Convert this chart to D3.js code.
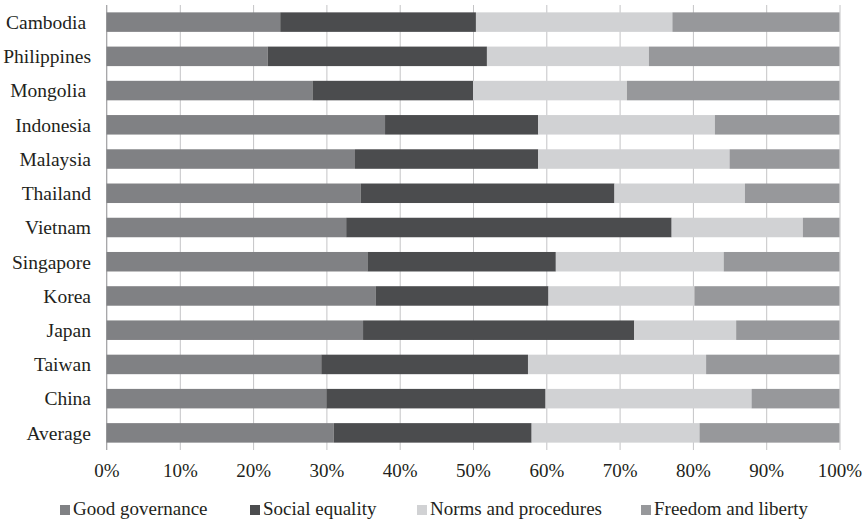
<!DOCTYPE html>
<html>
<head>
<meta charset="utf-8">
<script src="https://cdn.jsdelivr.net/npm/d3@7"></script>
<style>
  html, body { margin: 0; padding: 0; background: #fff; }
  svg { display: block; }
  text { font-family: "Liberation Serif", "Times New Roman", serif; fill: #231f20; }
</style>
</head>
<body>
<svg id="chart" width="864" height="522"></svg>
<script>
const countries = ["Cambodia ", "Philippines", "Mongolia ", "Indonesia", "Malaysia", "Thailand", "Vietnam",
                   "Singapore", "Korea", "Japan", "Taiwan", "China", "Average"];
const seriesNames = ["Good governance", "Social equality", "Norms and procedures", "Freedom and liberty"];
const goodGovernance    = [23.7, 22.0, 28.1, 38.0, 33.9, 34.7, 32.7, 35.6, 36.7, 35.0, 29.3, 30.0, 31.0];
const socialEquality    = [26.7, 29.9, 21.9, 20.9, 25.0, 34.6, 44.4, 25.7, 23.6, 37.0, 28.2, 29.9, 27.0];
const normsProcedures   = [26.8, 22.1, 21.0, 24.1, 26.1, 17.8, 17.9, 22.9, 19.9, 13.9, 24.3, 28.1, 22.9];
const freedomLiberty    = [22.8, 26.0, 29.0, 17.0, 15.0, 12.9,  5.0, 15.8, 19.8, 14.1, 18.2, 12.0, 19.1];
const tickValues = [0, 0.1, 0.2, 0.3, 0.4, 0.5, 0.6, 0.7, 0.8, 0.9, 1.0];
const colors = ["#808184", "#4b4c4e", "#d1d2d4", "#97989b"];

const svg = d3.select("#chart");
const margin = { left: 106.5, right: 864 - 839.5, top: 5, bottom: 522 - 450 };
const W = 864, H = 522;

const x = d3.scaleLinear().domain([0, 1]).range([margin.left, W - margin.right]);
const y = d3.scaleBand().domain(countries).range([margin.top, H - margin.bottom]).paddingInner(0.43).paddingOuter(0.215);

const rows = countries.map((c, i) => {
  const vals = [goodGovernance[i], socialEquality[i], normsProcedures[i], freedomLiberty[i]];
  const total = d3.sum(vals);
  const o = { country: c };
  seriesNames.forEach((s, j) => o[s] = vals[j] / total);
  return o;
});
const stacked = d3.stack().keys(seriesNames)(rows);

// gridlines
svg.append("g")
  .attr("transform", `translate(0,${H - margin.bottom})`)
  .call(d3.axisBottom(x).tickValues(tickValues).tickSize(-(H - margin.bottom - margin.top)).tickFormat(d3.format(".0%")).tickPadding(14))
  .call(g => g.select(".domain").remove())
  .call(g => g.selectAll(".tick line").attr("stroke", "#c4c4c6").attr("stroke-width", 1))
  .call(g => g.selectAll(".tick text").attr("font-size", "19px").attr("fill", "#231f20"));

// left axis line
svg.append("line")
  .attr("x1", x(0)).attr("x2", x(0))
  .attr("y1", margin.top).attr("y2", H - margin.bottom)
  .attr("stroke", "#a8a8aa").attr("stroke-width", 1);

// bars
svg.append("g").selectAll("g")
  .data(stacked)
  .join("g")
  .attr("fill", (d, i) => colors[i])
  .selectAll("rect")
  .data(d => d)
  .join("rect")
  .attr("x", d => x(d[0]))
  .attr("width", d => x(d[1]) - x(d[0]))
  .attr("y", d => y(d.data.country))
  .attr("height", y.bandwidth());

// category labels
svg.append("g").selectAll("text")
  .data(countries)
  .join("text")
  .attr("x", 91)
  .attr("y", d => y(d) + y.bandwidth() / 2)
  .attr("dy", "0.35em")
  .attr("text-anchor", "end")
  .attr("font-size", "19.5px")
  .style("white-space", "pre")
  .text(d => d);

// legend
const legendX = [60, 250, 417, 641];
const lg = svg.append("g").selectAll("g")
  .data(seriesNames)
  .join("g")
  .attr("transform", (d, i) => `translate(${legendX[i]},505)`);
lg.append("rect").attr("width", 10).attr("height", 10).attr("fill", (d, i) => colors[i]);
lg.append("text").attr("x", 13).attr("y", 10).attr("font-size", "19px").text(d => d);
</script>
</body>
</html>
